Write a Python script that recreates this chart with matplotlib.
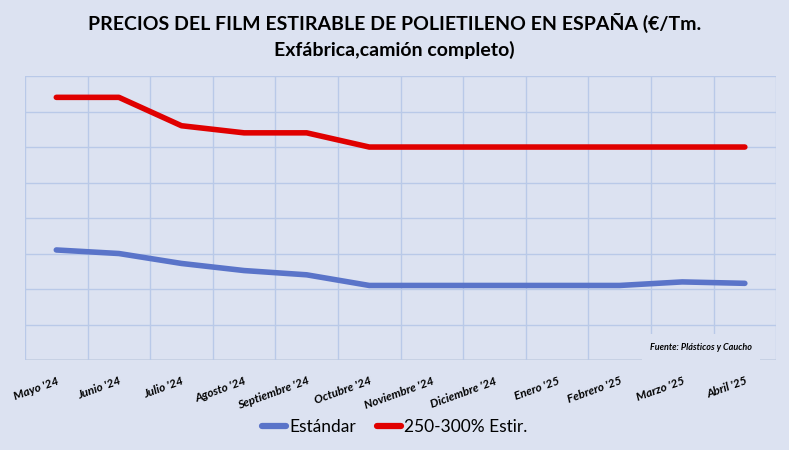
import matplotlib.pyplot as plt
from matplotlib.ticker import MultipleLocator

meses = ["Mayo '24", "Junio '24", "Julio '24", "Agosto '24", "Septiembre '24",
         "Octubre '24", "Noviembre '24", "Diciembre '24", "Enero '25",
         "Febrero '25", "Marzo '25", "Abril '25"]
estandar = [1310, 1300, 1272, 1252, 1240, 1210, 1210, 1210, 1210, 1210, 1220, 1216]
estirado = [1740, 1740, 1660, 1640, 1640, 1600, 1600, 1600, 1600, 1600, 1600, 1600]

bg = "#dce2f1"
grid_col = "#b9c9e8"
plt.rcParams['font.family'] = ['Lato', 'DejaVu Sans']

fig = plt.figure(figsize=(7.89, 4.5), dpi=100, facecolor=bg)
ax = fig.add_axes([0.0317, 0.2, 0.952, 0.631], facecolor=bg)

x = list(range(len(meses)))
ax.plot(x, estandar, color="#5a74c9", lw=4, solid_capstyle='round',
        solid_joinstyle='round', label="Estándar", zorder=3)
ax.plot(x, estirado, color="#e00000", lw=4, solid_capstyle='round',
        solid_joinstyle='round', label="250-300% Estir.", zorder=3)

ax.set_xlim(-0.5, len(meses) - 0.5)
ax.set_ylim(1000, 1800)
ax.yaxis.set_major_locator(MultipleLocator(100))
ax.set_xticks([i + 0.5 for i in range(-1, len(meses))], minor=False)
ax.set_xticklabels([])
ax.set_xticks(x, minor=True)
ax.set_xticklabels(meses, minor=True, rotation=20, ha='right',
                   rotation_mode='anchor', fontsize=8.5, fontweight='bold',
                   fontstyle='italic')
ax.tick_params(axis='x', which='both', length=0, pad=11)
ax.tick_params(axis='y', length=0, labelleft=False)
ax.grid(True, which='major', color=grid_col, lw=1, zorder=0)
for s in ax.spines.values():
    s.set_visible(False)
ax.axhline(1000, color="#c8d0e2", lw=1.2, zorder=1)

ax.text(0.968, 0.045, "Fuente: Plásticos y Caucho", transform=ax.transAxes,
        ha='right', va='center', fontsize=6.5, fontweight='bold',
        fontstyle='italic', zorder=2,
        bbox=dict(facecolor=bg, edgecolor='none', pad=6))

fig.text(0.5, 0.95, "PRECIOS DEL FILM ESTIRABLE DE POLIETILENO EN ESPAÑA (€/Tm.",
         ha='center', va='center', fontsize=14, fontweight='bold')
fig.text(0.5, 0.888, "Exfábrica,camión completo)",
         ha='center', va='center', fontsize=14, fontweight='bold')

fig.legend(loc='center', bbox_to_anchor=(0.5, 0.05), ncol=2, frameon=False,
           fontsize=12.5, handlelength=1.4, handletextpad=0.15, columnspacing=1.2)
for h in fig.legends[0].get_lines():
    h.set_linewidth(4.5)

fig.savefig("out.png", dpi=100, facecolor=bg)
